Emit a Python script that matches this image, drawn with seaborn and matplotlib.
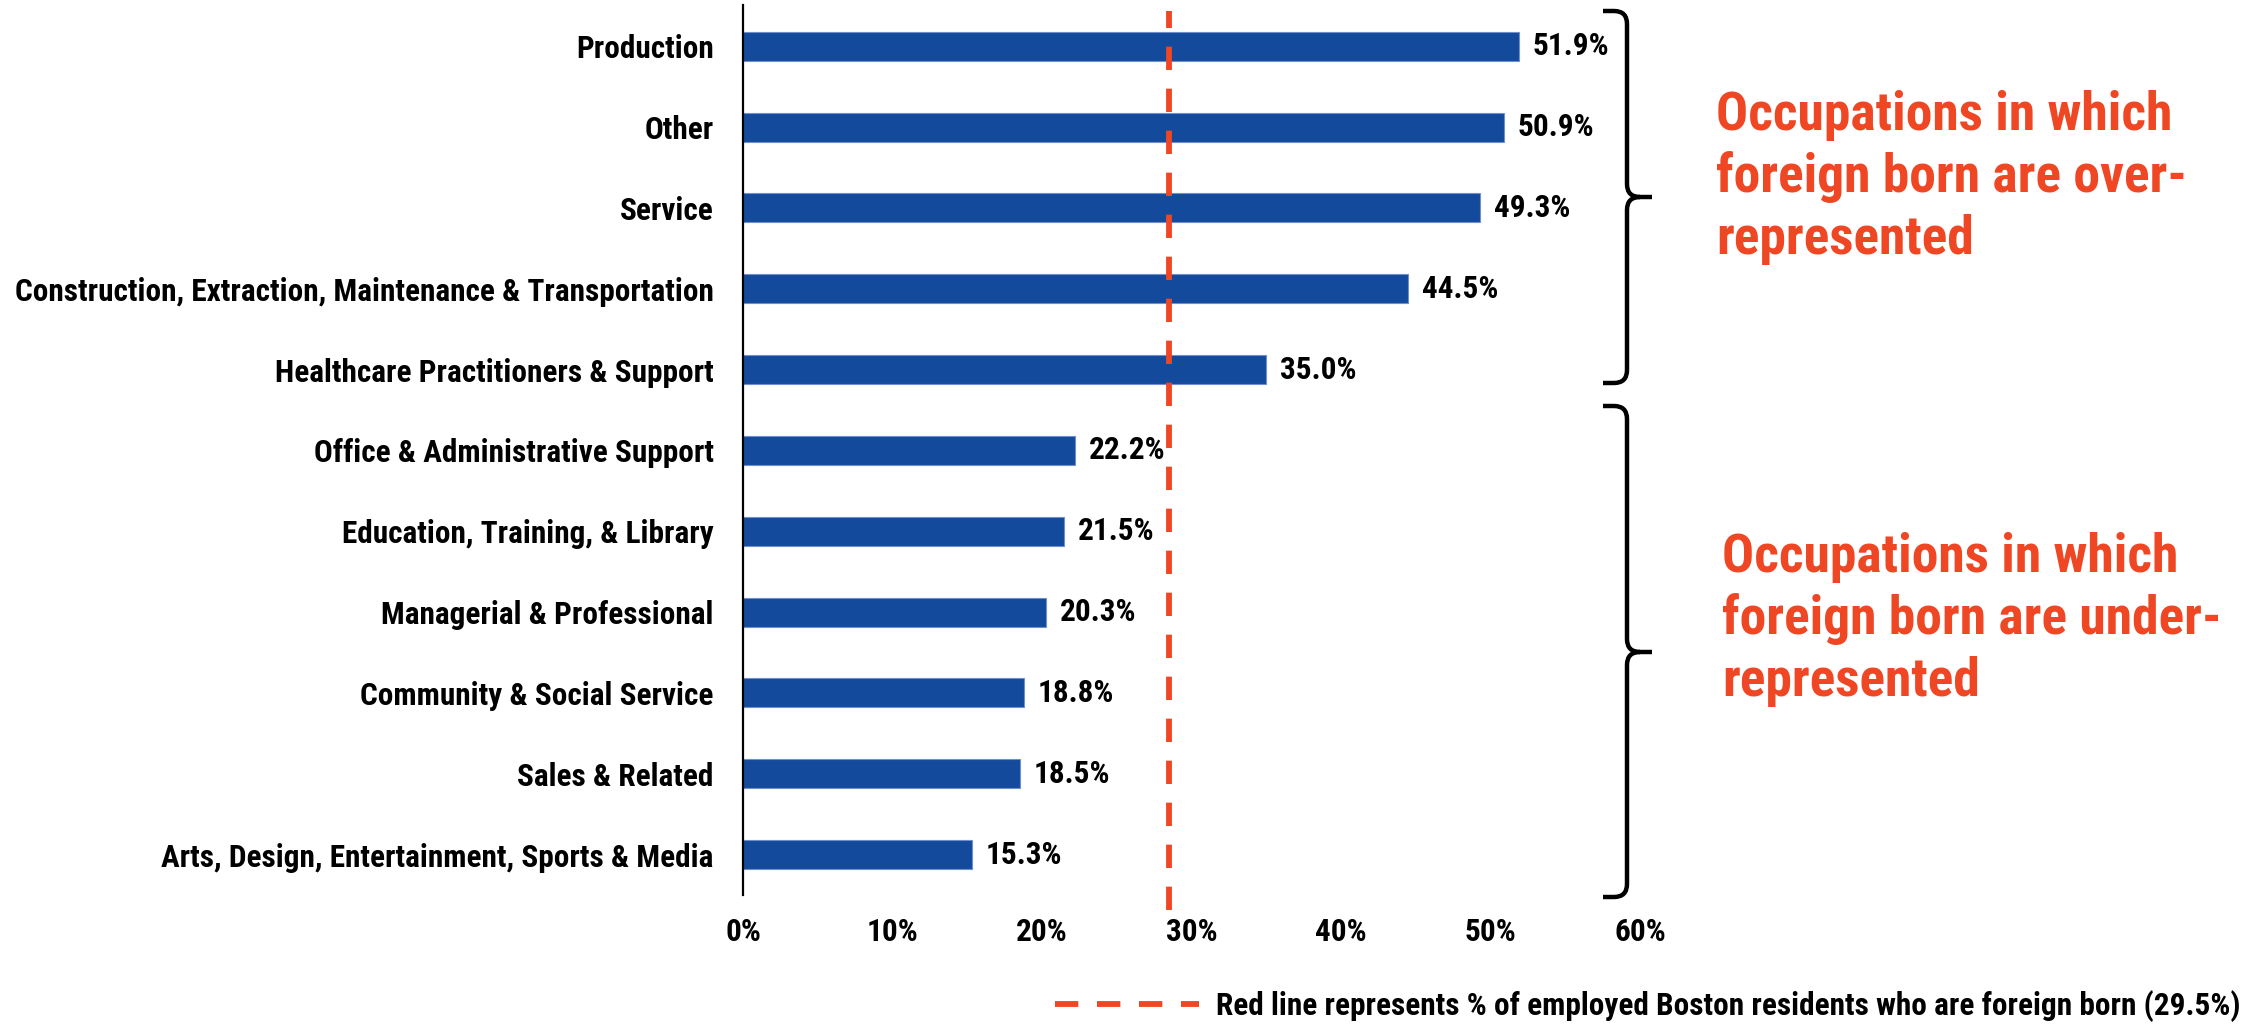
import matplotlib
matplotlib.use("Agg")
import matplotlib.pyplot as plt
from matplotlib.path import Path
from matplotlib.patches import PathPatch
import seaborn as sns
import pandas as pd

# ---------------- data ----------------
categories = [
    "Production",
    "Other",
    "Service",
    "Construction, Extraction, Maintenance & Transportation",
    "Healthcare Practitioners & Support",
    "Office & Administrative Support",
    "Education, Training, & Library",
    "Managerial & Professional",
    "Community & Social Service",
    "Sales & Related",
    "Arts, Design, Entertainment, Sports & Media",
]
values = [51.9, 50.9, 49.3, 44.5, 35.0, 22.2, 21.5, 20.3, 18.8, 18.5, 15.3]
value_labels = ["51.9%", "50.9%", "49.3%", "44.5%", "35.0%", "22.2%",
                "21.5%", "20.3%", "18.8%", "18.5%", "15.3%"]
x_ticks = [0, 10, 20, 30, 40, 50, 60]
x_tick_labels = ["0%", "10%", "20%", "30%", "40%", "50%", "60%"]
reference_line = 28.5  # position where the red line is drawn
legend_text = "Red line represents % of employed Boston residents who are foreign born (29.5%)"
over_text = ["Occupations in which", "foreign born are over-", "represented"]
under_text = ["Occupations in which", "foreign born are under-", "represented"]

BAR = "#134A9C"
ORANGE = "#EF4623"

# ---------------- fonts ----------------
sns.set_style("white")
plt.rcParams["font.family"] = ["Roboto Condensed", "Pragati Narrow", "DejaVu Sans"]
plt.rcParams["font.weight"] = "bold"
plt.rcParams["font.stretch"] = "condensed"
plt.rcParams["text.color"] = "black"
plt.rcParams["xtick.color"] = "black"
plt.rcParams["ytick.color"] = "black"

W, H = 2241, 1024
fig = plt.figure(figsize=(W / 100, H / 100), dpi=100)
fig.patch.set_facecolor("white")

top_px, bot_px, left_px, right_px = 5, 895, 743, 1640
ax = fig.add_axes([left_px / W, 1 - bot_px / H, (right_px - left_px) / W, (bot_px - top_px) / H])

df = pd.DataFrame({"cat": categories, "val": values})
sns.barplot(data=df, x="val", y="cat", orient="h", color=BAR, width=0.36,
            saturation=1, ax=ax, edgecolor="#6f8fcf", linewidth=0.8)

FS = 22.5
ax.set_xlim(0, 60)
ax.set_ylim(10.5, -0.51)
ax.set_xticks(x_ticks)
ax.set_xticklabels(x_tick_labels, fontsize=FS, fontweight="bold")
ax.set_yticks(range(len(categories)))
ax.set_yticklabels(categories, fontsize=FS, fontweight="bold")
ax.tick_params(axis="y", length=0, pad=21, labelcolor="black")
ax.tick_params(axis="x", length=0, pad=16, labelcolor="black")
ax.set_xlabel("")
ax.set_ylabel("")
for s in ["top", "right", "bottom"]:
    ax.spines[s].set_visible(False)
ax.spines["left"].set_color("black")
ax.spines["left"].set_linewidth(1.6)
ax.grid(False)

for i, (v, lab) in enumerate(zip(values, value_labels)):
    ax.annotate(lab, xy=(v, i), xytext=(10, 0), textcoords="offset points",
                ha="left", va="center", fontsize=FS, fontweight="bold", color="black")

line = ax.axvline(reference_line, ymin=-0.017, ymax=0.993, color=ORANGE, lw=4.2,
                  dashes=(4.0, 3.2), clip_on=False, label=legend_text, zorder=5)

leg = ax.legend(handles=[line], loc="center left",
                bbox_to_anchor=(1055 / W, 1 - 1006 / H), bbox_transform=fig.transFigure,
                frameon=False, fontsize=FS, handlelength=4.6, handletextpad=0.55,
                borderpad=0, borderaxespad=0)
for t in leg.get_texts():
    t.set_fontweight("bold")
    t.set_color("black")

# ---------------- braces ----------------
def brace(y0, y1, ym, xv=1627, xe=1603, xt=1652, r=13):
    def P(x, y):
        return (x / W, 1 - y / H)
    verts = [P(xe, y0), P(xv - r, y0), P(xv, y0), P(xv, y0 + r),
             P(xv, ym - r), P(xv, ym), P(xv + r, ym), P(xt, ym),
             P(xv + r, ym), P(xv, ym), P(xv, ym + r),
             P(xv, y1 - r), P(xv, y1), P(xv - r, y1), P(xe, y1)]
    codes = [Path.MOVETO, Path.LINETO, Path.CURVE3, Path.CURVE3,
             Path.LINETO, Path.CURVE3, Path.CURVE3, Path.LINETO,
             Path.MOVETO, Path.CURVE3, Path.CURVE3,
             Path.LINETO, Path.CURVE3, Path.CURVE3, Path.LINETO]
    fig.patches.append(PathPatch(Path(verts, codes), transform=fig.transFigure,
                                 fill=False, lw=3.2, color="black", capstyle="butt"))

brace(11, 383, 197)
brace(406, 897, 652)

# ---------------- annotations ----------------
def block(lines, x, y_first, dy=62):
    for k, s in enumerate(lines):
        fig.text(x / W, 1 - (y_first + k * dy) / H, s, color=ORANGE,
                 fontsize=38.5, fontweight="bold", ha="left", va="baseline")

block(over_text, 1716, 130)
block(under_text, 1722, 572)

fig.savefig("out.png", dpi=100, facecolor="white")
